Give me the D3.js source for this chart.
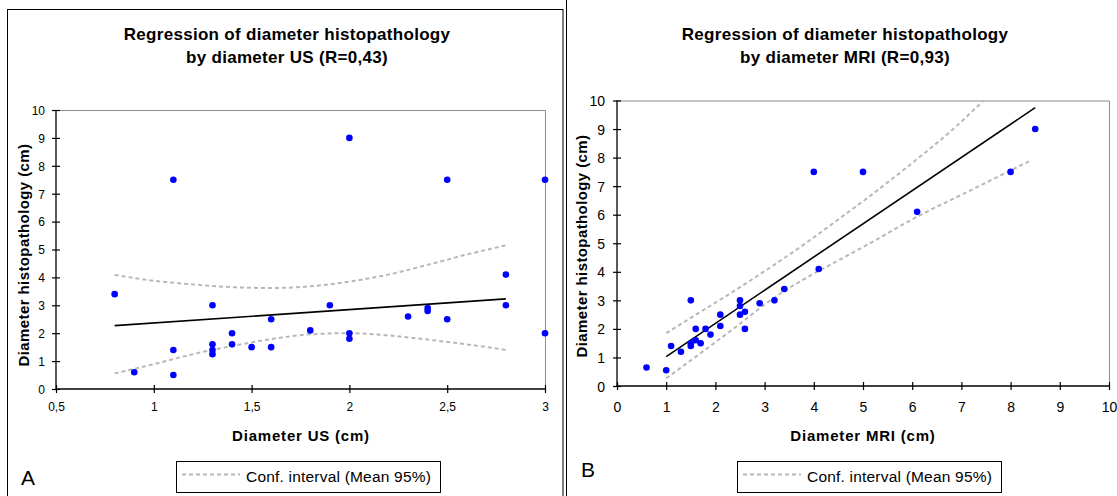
<!DOCTYPE html>
<html><head><meta charset="utf-8">
<script src="https://cdn.jsdelivr.net/npm/d3@7"></script>
<style>
html,body{margin:0;padding:0;background:#fff;}
svg{display:block;font-family:"Liberation Sans",Arial,sans-serif;}
</style></head>
<body><svg id="c" width="1117" height="496"></svg>
<script>
// ---------- Panel A : diameter US ----------
const usX = [0.8,0.9,1.1,1.1,1.1,1.3,1.3,1.3,1.3,1.4,1.4,1.5,1.6,1.6,1.8,1.9,2.0,2.0,2.0,2.3,2.4,2.4,2.5,2.5,2.8,2.8,3.0,3.0];
const usY = [3.4,0.6,7.5,1.4,0.5,3.0,1.6,1.4,1.25,2.0,1.6,1.5,2.5,1.5,2.1,3.0,9.0,2.0,1.8,2.6,2.9,2.8,7.5,2.5,4.1,3.0,7.5,2.0];
const usFitX = [0.8, 2.8];
const usFitY = [2.27, 3.23];
const usBandX = [0.8,1.0,1.2,1.4,1.6,1.8,2.0,2.2,2.4,2.6,2.8];
const usBandUpper = [4.09,3.88,3.75,3.65,3.62,3.68,3.85,4.1,4.45,4.82,5.15];
const usBandLower = [0.56,0.89,1.25,1.54,1.79,1.96,2.0,1.92,1.77,1.6,1.4];
const usXTicks = [0.5,1,1.5,2,2.5,3];
const usXTickLabels = ["0,5","1","1,5","2","2,5","3"];
const yTicks = [0,1,2,3,4,5,6,7,8,9,10];

// ---------- Panel B : diameter MRI ----------
const mriX = [0.6,1.0,1.1,1.3,1.5,1.5,1.5,1.6,1.6,1.7,1.8,1.9,2.1,2.1,2.5,2.5,2.5,2.6,2.6,2.9,3.2,3.4,4.1,4.0,5.0,6.1,8.0,8.5];
const mriY = [0.65,0.55,1.4,1.2,3.0,1.5,1.4,2.0,1.6,1.5,2.0,1.8,2.5,2.1,3.0,2.8,2.5,2.6,2.0,2.9,3.0,3.4,4.1,7.5,7.5,6.1,7.5,9.0];
const mriFitX = [1.0, 8.5];
const mriFitY = [1.03, 9.75];
const mriUpperX = [1.0,1.7,2.4,3.2,3.85,4.55,5.1,6.1,6.8,7.45];
const mriUpperY = [1.85,2.6,3.35,4.25,5.02,5.9,6.6,7.95,8.95,10.0];
const mriLowerX = [1.0,1.7,2.4,3.2,3.9,4.5,5.1,6.1,7.1,8.0,8.4];
const mriLowerY = [0.27,1.15,2.05,3.1,3.84,4.4,4.96,5.93,6.78,7.55,7.89];
const mriXTicks = [0,1,2,3,4,5,6,7,8,9,10];
const mriXTickLabels = ["0","1","2","3","4","5","6","7","8","9","10"];

const titleLine1 = "Regression of diameter histopathology";
const titleA = "by diameter US (R=0,43)";
const titleB = "by diameter MRI (R=0,93)";
const yTitle = "Diameter histopathology (cm)";
const legendText = "Conf. interval (Mean 95%)";

const svg = d3.select("#c");

// panel borders
svg.append("rect").attr("x",7.5).attr("y",9.5).attr("width",555.5).attr("height",500)
  .attr("fill","none").attr("stroke","#000").attr("stroke-width",1);
svg.append("line").attr("x1",566.5).attr("x2",566.5).attr("y1",0).attr("y2",496).attr("stroke","#000");

function panel(cfg){
  const g = svg.append("g");
  const x = d3.scaleLinear().domain(cfg.xDomain).range(cfg.xRange);
  const y = d3.scaleLinear().domain([0,10]).range(cfg.yRange);
  const [x0,x1] = cfg.xRange, [yb,yt] = cfg.yRange;
  // grey frame top/right
  g.append("path").attr("d",`M${x0},${yt+0.5}H${x1+0.5}V${yb}`).attr("fill","none")
    .attr("stroke","#8c8c8c").attr("stroke-width",1);
  // titles
  g.append("text").attr("x",cfg.titleX).attr("y",40).attr("text-anchor","middle")
    .attr("font-weight","bold").attr("font-size",17).attr("letter-spacing",0.3).text(titleLine1);
  g.append("text").attr("x",cfg.titleX).attr("y",63).attr("text-anchor","middle")
    .attr("font-weight","bold").attr("font-size",17).attr("letter-spacing",0.3).text(cfg.title2);
  // axes
  const ax = d3.axisBottom(x).tickValues(cfg.xTicks).tickFormat((d,i)=>cfg.xTickLabels[i]).tickSize(4).tickPadding(0);
  const gx = g.append("g").attr("transform",`translate(0,${yb})`).call(ax);
  gx.select(".domain").attr("d",`M${x0},0H${x1}`).attr("stroke","#000").attr("stroke-width",1.3);
  gx.selectAll(".tick line").attr("y1",-4).attr("y2",4).attr("stroke","#000").attr("stroke-width",1.2);
  gx.selectAll(".tick text").attr("y",cfg.xLabelDy).attr("dy",0).attr("font-size",cfg.tickFont)
    .attr("fill","#000").attr("font-family","Liberation Sans, Arial, sans-serif");
  const ay = d3.axisLeft(y).tickValues(yTicks).tickFormat(d3.format("d")).tickSize(4).tickPadding(0);
  const gy = g.append("g").attr("transform",`translate(${x0},0)`).call(ay);
  gy.select(".domain").attr("d",`M0,${yb}V${yt}`).attr("stroke","#000").attr("stroke-width",1.3);
  gy.selectAll(".tick line").attr("x1",-4).attr("x2",4).attr("stroke","#000").attr("stroke-width",1.2);
  gy.selectAll(".tick text").attr("x",cfg.yLabelDx).attr("dy","0.36em").attr("font-size",cfg.tickFont)
    .attr("fill","#000").attr("font-family","Liberation Sans, Arial, sans-serif");
  // axis titles
  g.append("text").attr("x",cfg.xTitleX).attr("y",441).attr("text-anchor","middle")
    .attr("font-weight","bold").attr("font-size",15).attr("letter-spacing",0.8).text(cfg.xTitle);
  g.append("text").attr("transform",`translate(${cfg.yTitleX},${cfg.yTitleY}) rotate(-90)`)
    .attr("text-anchor","middle").attr("font-weight","bold").attr("font-size",15)
    .attr("letter-spacing",0.4).text(yTitle);
  // confidence band
  const line = d3.line().x(d=>x(d[0])).y(d=>y(d[1])).curve(d3.curveMonotoneX);
  cfg.bands.forEach(b=>{
    g.append("path").attr("d",line(d3.zip(b[0],b[1]))).attr("fill","none")
      .attr("stroke","#b8b8b8").attr("stroke-width",2).attr("stroke-dasharray","4,3");
  });
  // regression line
  g.append("path").attr("d",d3.line().x(d=>x(d[0])).y(d=>y(d[1]))(d3.zip(cfg.fitX,cfg.fitY)))
    .attr("fill","none").attr("stroke","#000").attr("stroke-width",1.6);
  // points
  g.selectAll("circle.pt").data(d3.zip(cfg.px,cfg.py)).join("circle").attr("class","pt")
    .attr("cx",d=>x(d[0])).attr("cy",d=>y(d[1])).attr("r",3.3).attr("fill","#0000ff");
  // legend
  const lx = cfg.legendX;
  g.append("rect").attr("x",lx+0.5).attr("y",461.5).attr("width",264).attr("height",31)
    .attr("fill","#fff").attr("stroke","#000").attr("stroke-width",1);
  g.append("line").attr("x1",lx+6).attr("x2",lx+64).attr("y1",474.5).attr("y2",474.5)
    .attr("stroke","#b8b8b8").attr("stroke-width",2).attr("stroke-dasharray","4,3");
  g.append("text").attr("x",lx+70).attr("y",482).attr("font-size",15.5).attr("letter-spacing",0.2).text(legendText);
  // panel letter
  g.append("text").attr("x",cfg.letterX).attr("y",cfg.letterY).attr("font-size",21).text(cfg.letter);
}

panel({xDomain:[0.5,3], xRange:[56,545], yRange:[389,110], titleX:287, title2:titleA,
  xTicks:usXTicks, xTickLabels:usXTickLabels, tickFont:12, xLabelDy:22, yLabelDx:-11,
  xTitle:"Diameter US (cm)", xTitleX:301, yTitleX:29, yTitleY:255,
  bands:[[usBandX,usBandUpper],[usBandX,usBandLower]], fitX:usFitX, fitY:usFitY,
  px:usX, py:usY, legendX:176, letter:"A", letterX:21, letterY:485});

panel({xDomain:[0,10], xRange:[617,1109], yRange:[386,100.5], titleX:845, title2:titleB,
  xTicks:mriXTicks, xTickLabels:mriXTickLabels, tickFont:14, xLabelDy:26, yLabelDx:-12,
  xTitle:"Diameter MRI (cm)", xTitleX:863, yTitleX:587, yTitleY:246,
  bands:[[mriUpperX,mriUpperY],[mriLowerX,mriLowerY]], fitX:mriFitX, fitY:mriFitY,
  px:mriX, py:mriY, legendX:737, letter:"B", letterX:581, letterY:477});
</script></body></html>
